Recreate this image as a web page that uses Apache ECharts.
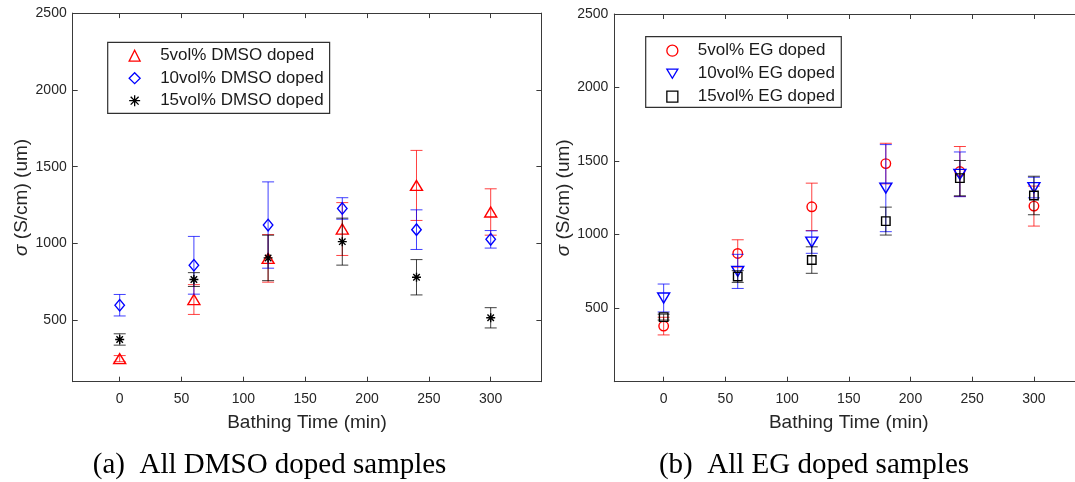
<!DOCTYPE html>
<html><head><meta charset="utf-8">
<script src="https://cdn.jsdelivr.net/npm/echarts@6/dist/echarts.min.js"></script>
<style>html,body{margin:0;padding:0;background:#fff}#c{width:1075px;height:482px}</style>
</head><body><div id="c"></div>
<script>
// ---- data ----
const times = [0, 60, 120, 180, 240, 300];
const xTicks = [0, 50, 100, 150, 200, 250, 300];
const yTicks = [500, 1000, 1500, 2000, 2500];

const dmso5 = [250, 635, 903, 1094, 1378, 1205];
const dmso5Err = [20, 97, 155, 172, 228, 151];
const dmso10 = [598, 858, 1120, 1228, 1090, 1027];
const dmso10Err = [70, 188, 281, 70, 129, 57];
const dmso15 = [375, 765, 906, 1012, 780, 516];
const dmso15Err = [37, 45, 148, 153, 115, 66];

const eg5 = [378, 872, 1189, 1483, 1429, 1194];
const eg5Err = [60, 93, 161, 138, 170, 136];
const eg10 = [569, 750, 949, 1316, 1410, 1320];
const eg10Err = [95, 116, 76, 296, 152, 70];
const eg15 = [439, 715, 827, 1092, 1384, 1266];
const eg15Err = [20, 40, 90, 95, 120, 131];

const labelsA = ['5vol% DMSO doped', '10vol% DMSO doped', '15vol% DMSO doped'];
const labelsB = ['5vol% EG doped', '10vol% EG doped', '15vol% EG doped'];
const xName = 'Bathing Time (min)';
const yName = '{s|σ} (S/cm) (um)';
const captionA = '(a)  All DMSO doped samples';
const captionB = '(b)  All EG doped samples';

// ---- styling ----
const SANS = '"Liberation Sans", Arial, Helvetica, sans-serif';
const SERIF = '"Liberation Serif", "Times New Roman", serif';
const axisColor = '#3a3a3a';
const textColor = '#262626';
const asterisk = 'path://M0,-5L0,5M-5,0L5,0M-3.6,-3.6L3.6,3.6M-3.6,3.6L3.6,-3.6';
const downTri = 'path://M0,0L12,0L6,10Z';
const plain = v => String(v);

function xAxes(gi, min, max) {
  const base = {
    type: 'value', gridIndex: gi, min: min, max: max,
    splitLine: {show: false},
    axisLine: {show: true, onZero: false, lineStyle: {color: axisColor, width: 1}},
    axisTick: {show: true, inside: true, length: 5, customValues: xTicks, lineStyle: {color: axisColor}}
  };
  return [
    Object.assign({}, base, {
      position: 'bottom', name: xName, nameLocation: 'middle', nameGap: 32,
      nameTextStyle: {fontSize: 19, color: textColor, fontFamily: SANS},
      axisLabel: {show: true, customValues: xTicks, formatter: plain, margin: 10, color: textColor, fontSize: 14, fontFamily: SANS}
    }),
    Object.assign({}, base, {position: 'top', axisLabel: {show: false}})
  ];
}
function yAxes(gi, min, max) {
  const base = {
    type: 'value', gridIndex: gi, min: min, max: max,
    splitLine: {show: false},
    axisLine: {show: true, onZero: false, lineStyle: {color: axisColor, width: 1}},
    axisTick: {show: true, inside: true, length: 5, customValues: yTicks, lineStyle: {color: axisColor}}
  };
  return [
    Object.assign({}, base, {
      position: 'left', name: yName, nameLocation: 'middle', nameGap: 34,
      nameTextStyle: {fontSize: 19, color: textColor, fontFamily: SANS,
        rich: {s: {fontSize: 19, fontStyle: 'italic', color: textColor, fontFamily: SANS}}},
      axisLabel: {show: true, customValues: yTicks, formatter: plain, margin: 6, color: textColor, fontSize: 14, fontFamily: SANS}
    }),
    Object.assign({}, base, {position: 'right', axisLabel: {show: false}})
  ];
}

function errSeries(name, vals, errs, color, ai, z) {
  return {
    type: 'custom', name: name + ' error', xAxisIndex: ai, yAxisIndex: ai,
    data: times.map((t, i) => [t, vals[i], errs[i]]),
    encode: {x: 0, y: 1}, silent: true, z: z,
    renderItem: function (params, api) {
      const x = api.value(0), y = api.value(1), e = api.value(2);
      const hi = api.coord([x, y + e]), lo = api.coord([x, y - e]);
      const w = 6;
      const st = {stroke: color, lineWidth: 1, opacity: 0.75};
      return {type: 'group', children: [
        {type: 'line', shape: {x1: hi[0], y1: hi[1], x2: lo[0], y2: lo[1]}, style: st},
        {type: 'line', shape: {x1: hi[0] - w, y1: hi[1], x2: hi[0] + w, y2: hi[1]}, style: st},
        {type: 'line', shape: {x1: lo[0] - w, y1: lo[1], x2: lo[0] + w, y2: lo[1]}, style: st}
      ]};
    }
  };
}
function markSeries(name, vals, color, ai, symbol, size, z) {
  return {
    type: 'scatter', name: name, xAxisIndex: ai, yAxisIndex: ai,
    data: times.map((t, i) => [t, vals[i]]),
    symbol: symbol, symbolSize: size, silent: true, z: z,
    itemStyle: {color: 'transparent', borderColor: color, borderWidth: 1.4, opacity: 1}
  };
}

const series = [
  errSeries(labelsA[0], dmso5, dmso5Err, '#ff0000', 0, 2),
  markSeries(labelsA[0], dmso5, '#ff0000', 0, 'triangle', [12, 10], 3),
  errSeries(labelsA[1], dmso10, dmso10Err, '#0000ff', 0, 4),
  markSeries(labelsA[1], dmso10, '#0000ff', 0, 'diamond', [9.5, 11.5], 5),
  errSeries(labelsA[2], dmso15, dmso15Err, '#000000', 0, 6),
  markSeries(labelsA[2], dmso15, '#000000', 0, asterisk, 9, 7),

  errSeries(labelsB[0], eg5, eg5Err, '#ff0000', 2, 2),
  markSeries(labelsB[0], eg5, '#ff0000', 2, 'circle', 9.5, 3),
  errSeries(labelsB[1], eg10, eg10Err, '#0000ff', 2, 4),
  markSeries(labelsB[1], eg10, '#0000ff', 2, downTri, [12, 10], 5),
  errSeries(labelsB[2], eg15, eg15Err, '#000000', 2, 6),
  markSeries(labelsB[2], eg15, '#000000', 2, 'rect', 8.5, 7)
];

function legendCfg(data, left, top, padding, gap) {
  return {
    data: data, orient: 'vertical', left: left, top: top, padding: padding,
    itemWidth: 11, itemHeight: 11, itemGap: gap,
    backgroundColor: '#fff', borderColor: '#303030', borderWidth: 1.2, borderRadius: 0,
    selectedMode: false,
    itemStyle: {borderWidth: 1.3},
    textStyle: {fontSize: 17, lineHeight: 18, color: '#1a1a1a', fontFamily: SANS, padding: [0, 0, 0, 15]}
  };
}

const chart = echarts.init(document.getElementById('c'), null, {renderer: 'canvas'});
chart.setOption({
  animation: false,
  backgroundColor: '#ffffff',
  grid: [
    {left: 72.7, top: 13.1, width: 468.7, height: 368.6, containLabel: false, outerBoundsMode: 'none'},
    {left: 614.3, top: 14, width: 469.0, height: 367.7, containLabel: false, outerBoundsMode: 'none'}
  ],
  xAxis: xAxes(0, -38, 341).concat(xAxes(1, -40, 340)),
  yAxis: yAxes(0, 100, 2500).concat(yAxes(1, 0, 2500)),
  legend: [
    legendCfg(labelsA, 107.7, 42.3, [4.4, 6, 3.6, 20.8], 4.5),
    legendCfg(labelsB, 645.7, 36.7, [5, 6.4, 1.6, 20.5], 5)
  ],
  series: series,
  graphic: [
    {type: 'text', x: 269.6, y: 465, silent: true,
     style: {text: captionA, align: 'center', verticalAlign: 'middle', textAlign: 'center', textVerticalAlign: 'middle',
             font: '29px ' + SERIF, fill: '#000'}},
    {type: 'text', x: 814, y: 465, silent: true,
     style: {text: captionB, align: 'center', verticalAlign: 'middle', textAlign: 'center', textVerticalAlign: 'middle',
             font: '29px ' + SERIF, fill: '#000'}}
  ]
});
</script>
</body></html>
